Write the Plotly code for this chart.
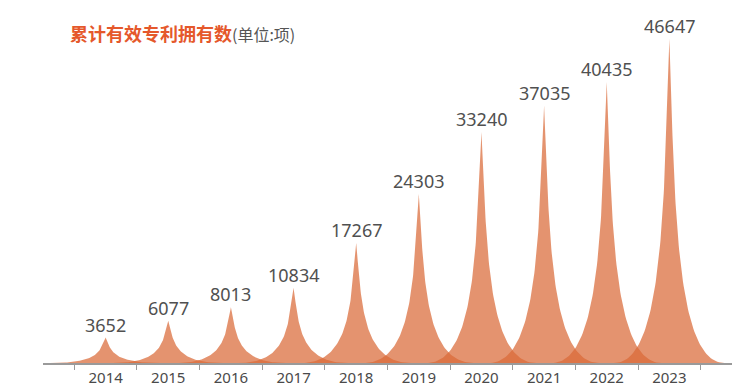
import numpy as np
import plotly.graph_objects as go

years = ['2014', '2015', '2016', '2017', '2018', '2019', '2020', '2021', '2022', '2023']
values = [3652, 6077, 8013, 10834, 17267, 24303, 33240, 37035, 40435, 46647]

title_main = '累计有效专利拥有数'
title_unit = '(单位:项)'

# spike symbol: echarts-like path 'M0,10 L10,10 C5.5,10 5.5,5 5,0 C4.5,5 4.5,10 0,10 z'
def bez(p0, p1, p2, p3, n=80):
    t = np.linspace(0, 1, n)[:, None]
    p0, p1, p2, p3 = map(np.array, (p0, p1, p2, p3))
    return ((1 - t) ** 3) * p0 + 3 * ((1 - t) ** 2) * t * p1 + 3 * (1 - t) * t ** 2 * p2 + t ** 3 * p3

right = bez((1, 0), (0.1, 0), (0.1, 0.5), (0, 1))
left = bez((0, 1), (-0.1, 0.5), (-0.1, 0), (-1, 0))
shape = np.vstack([right, left[1:]])
half_w = 0.88

fig = go.Figure()
for i, v in enumerate(values):
    fig.add_trace(go.Scatter(
        x=i + shape[:, 0] * half_w,
        y=shape[:, 1] * v,
        mode='lines',
        fill='toself',
        fillcolor='rgba(218,105,55,0.72)',
        line=dict(width=0, color='rgba(0,0,0,0)'),
        hoverinfo='skip',
        showlegend=False,
    ))
    fig.add_annotation(
        x=i, y=v, text=str(v), showarrow=False,
        yanchor='middle', yshift=13,
        font=dict(family='Noto Sans', size=18, color='#505050'),
    )

fig.add_annotation(
    xref='paper', yref='paper', x=(68 - 43) / 689, y=(363 - 33) / 343,
    xanchor='left', yanchor='middle', showarrow=False,
    text=("<b><span style='color:#E5582B'>" + title_main + "</span></b>"
          "<span style='font-size:16px;color:#555555'>" + title_unit + "</span>"),
    font=dict(family='Noto Sans CJK SC', size=18, color='#E5582B'),
)

fig.update_layout(
    width=750, height=390,
    margin=dict(l=43, r=18, t=20, b=27),
    paper_bgcolor='white', plot_bgcolor='white',
    showlegend=False,
    xaxis=dict(
        range=[-1, 10],
        automargin=False,
        tickmode='array',
        tickvals=list(range(len(years))),
        ticktext=years,
        ticks='',
        ticklabelstandoff=0,
        showline=True, linecolor='#9a9a9a', linewidth=1.5,
        showgrid=False, zeroline=False,
        tickfont=dict(family='Noto Sans', size=15, color='#4a4a4a'),
        minor=dict(
            tickmode='array',
            tickvals=[i - 0.5 for i in range(len(years) + 1)],
            ticks='outside', ticklen=5, tickwidth=1.2, tickcolor='#9a9a9a',
            showgrid=False,
        ),
    ),
    yaxis=dict(range=[0, 49350], visible=False, automargin=False),
)

fig.write_html(
    'out.html',
    config={'displayModeBar': False},
    post_script="document.body.style.margin='0';document.body.style.overflow='hidden';"
                "document.documentElement.style.overflow='hidden';",
)
